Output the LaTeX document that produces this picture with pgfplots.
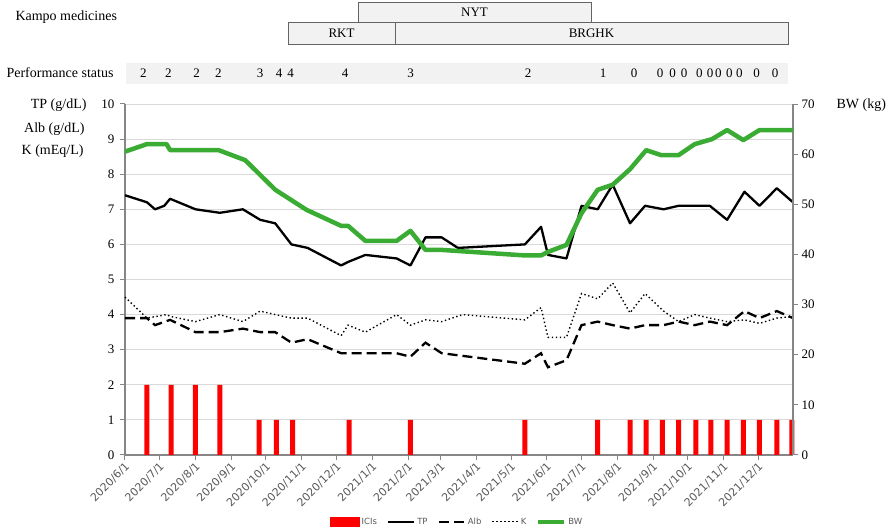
\documentclass[border=0pt]{standalone}
\usepackage{pgfplots}
\pgfplotsset{compat=1.18}
\usepackage{fontspec}
\setmainfont{Liberation Serif}
\newfontfamily\dejavu{DejaVu Sans}
\definecolor{bwgreen}{RGB}{58,172,52}
\definecolor{axgray}{RGB}{134,134,134}
\definecolor{gridgray}{RGB}{217,217,217}
\definecolor{boxfill}{RGB}{242,242,242}
\definecolor{boxdraw}{RGB}{100,100,100}
\definecolor{txtgray}{RGB}{89,89,89}
\begin{document}
\begin{tikzpicture}
\path[use as bounding box] (-125pt,-72pt) rectangle (761pt,455pt);
% ---- annotations: Kampo medicines and performance status
\node[anchor=west,font=\fontsize{14}{16}\selectfont] at (-113pt,438pt) {Kampo medicines};
\draw[boxdraw,fill=boxfill,line width=0.8pt] (233pt,453pt) rectangle (466pt,433pt);
\node[font=\fontsize{13}{15}\selectfont] at (349.5pt,443pt) {NYT};
\draw[boxdraw,fill=boxfill,line width=0.8pt] (163pt,433pt) rectangle (270pt,411pt);
\node[font=\fontsize{13}{15}\selectfont] at (216.5pt,422pt) {RKT};
\draw[boxdraw,fill=boxfill,line width=0.8pt] (270pt,433pt) rectangle (663pt,411pt);
\node[font=\fontsize{13}{15}\selectfont] at (466.5pt,422pt) {BRGHK};
\node[anchor=west,font=\fontsize{14}{16}\selectfont] at (-122pt,382pt) {Performance status};
\fill[boxfill] (1pt,392pt) rectangle (663pt,371pt);
\foreach \px/\v in {143.3/2,168.3/2,196.7/2,218.3/2,260/3,279/4,290.7/4,345/4,410.7/3,528/2,603/1,634/0,660/0,672.7/0,684/0,699.3/0,710/0,718.3/0,729.3/0,739.3/0,756.7/0,775/0}{
  \node[font=\fontsize{13}{15}\selectfont,inner sep=0pt] at ({\px pt-125pt},382pt) {\v};
}
\node[anchor=east,font=\fontsize{14}{16}\selectfont] at (-35pt,350pt) {TP (g/dL)};
\node[anchor=east,font=\fontsize{14}{16}\selectfont] at (-37pt,326pt) {Alb (g/dL)};
\node[anchor=east,font=\fontsize{14}{16}\selectfont] at (-38pt,304pt) {K (mEq/L)};
\node[anchor=west,font=\fontsize{14}{16}\selectfont] at (708pt,350pt) {BW (kg)};
% ---- left axis
\begin{axis}[
  at={(0pt,0pt)}, anchor=south west,
  scale only axis, width=668pt, height=351pt,
  xmin=0, xmax=578, ymin=0, ymax=10,
  axis x line=bottom, axis y line=left,
  axis line style={-, draw=axgray, line width=1.2pt},
  tick align=outside, major tick length=5pt,
  every tick/.style={draw=axgray, line width=1pt},
  ytick={0,1,...,10},
  ymajorgrids, grid style={gridgray, line width=0.9pt},
  /pgf/number format/assume math mode=true,
  yticklabel style={font=\fontsize{13}{15}\selectfont, xshift=-2pt},
  xtick={0,30,61,92,122,153,183,214,245,273,304,334,365,395,426,457,487,518,548},
  xticklabels={2020/6/1,2020/7/1,2020/8/1,2020/9/1,2020/10/1,2020/11/1,2020/12/1,2021/1/1,2021/2/1,2021/3/1,2021/4/1,2021/5/1,2021/6/1,2021/7/1,2021/8/1,2021/9/1,2021/10/1,2021/11/1,2021/12/1},
  xticklabel style={font=\dejavu\fontsize{11}{13}\selectfont, rotate=45, anchor=east, text=txtgray, xshift=2pt, yshift=-5pt},
  clip=false,
  legend image code/.code={\draw[#1] (0pt,0pt) -- (26pt,0pt);},
  legend style={at={(0.497,-0.19)}, anchor=center, draw=none, fill=none,
    font=\dejavu\fontsize{8.5}{10}\selectfont, text=txtgray, inner sep=0pt,
    /tikz/every even column/.append style={column sep=8pt}},
  legend columns=5,
]
\addplot[ybar, bar width=5pt, fill=red, draw=none,
  legend image code/.code={\fill[red] (0pt,-5pt) rectangle (30pt,5pt);}] coordinates {
(19,2) (40,2) (61,2) (82,2) (116,1) (131,1) (145,1) (194,1) (247,1) (346,1) (409,1)
(437,1) (451,1) (465,1) (479,1) (494,1) (507,1) (521,1) (535,1) (549,1) (564,1) (577,1)};
\addlegendentry{ICIs}
\addplot[black, line width=2.3pt, line join=round] coordinates {
(0,7.4) (19,7.2) (26,7.0) (34,7.1) (39,7.3) (61,7.0) (82,6.9) (102,7.0) (117,6.7) (130,6.6)
(144,6.0) (158,5.9) (187,5.4) (193,5.5) (208,5.7) (235,5.6) (247,5.4) (260,6.2) (274,6.2)
(288,5.9) (346,6.0) (360,6.5) (366,5.7) (382,5.6) (395,7.1) (409,7.0) (422,7.7) (437,6.6)
(450,7.1) (466,7.0) (479,7.1) (506,7.1) (521,6.7) (536,7.5) (549,7.1) (564,7.6) (578,7.2)};
\addlegendentry{TP}
\addplot[black, line width=2.3pt, dash pattern=on 10pt off 5pt] coordinates {
(0,3.9) (19,3.9) (26,3.7) (39,3.85) (61,3.5) (82,3.5) (102,3.6) (117,3.5) (130,3.5)
(144,3.2) (158,3.3) (187,2.9) (208,2.9) (235,2.9) (247,2.8) (260,3.2) (274,2.9) (346,2.6)
(360,2.9) (366,2.5) (382,2.7) (395,3.7) (409,3.8) (422,3.7) (437,3.6) (450,3.7) (466,3.7)
(479,3.8) (493,3.7) (506,3.8) (521,3.7) (536,4.1) (549,3.9) (564,4.1) (578,3.9)};
\addlegendentry{Alb}
\addplot[black, line width=1.4pt, dash pattern=on 1.4pt off 2.6pt] coordinates {
(0,4.5) (19,3.9) (36,4.0) (39,3.95) (61,3.8) (82,4.0) (102,3.8) (117,4.1) (130,4.0)
(144,3.9) (158,3.9) (187,3.4) (193,3.7) (208,3.5) (235,4.0) (247,3.7) (260,3.85) (274,3.8)
(292,4.0) (346,3.85) (360,4.2) (366,3.35) (382,3.35) (395,4.6) (409,4.45) (422,4.9)
(437,4.05) (450,4.6) (466,4.1) (479,3.8) (493,4.0) (506,3.9) (521,3.8) (536,3.85)
(549,3.75) (564,3.9) (578,3.95)};
\addlegendentry{K}
\addlegendimage{bwgreen, line width=4pt}
\addlegendentry{BW}
\end{axis}
% ---- right axis
\begin{axis}[
  at={(0pt,0pt)}, anchor=south west,
  scale only axis, width=668pt, height=351pt,
  xmin=0, xmax=578, ymin=0, ymax=70,
  axis x line=none, axis y line=right,
  axis line style={-, draw=axgray, line width=1.2pt},
  tick align=outside, major tick length=5pt,
  every tick/.style={draw=axgray, line width=1pt},
  ytick={0,10,...,70},
  /pgf/number format/assume math mode=true,
  yticklabel style={font=\fontsize{13}{15}\selectfont},
]
\addplot[bwgreen, line width=4.5pt, line join=round] coordinates {
(0,60.5) (19,62.0) (36,62.0) (39,60.8) (81,60.8) (104,58.8) (130,52.9) (157,48.9)
(187,45.7) (193,45.7) (208,42.7) (235,42.7) (247,44.7) (260,40.9) (274,40.9) (346,39.8)
(360,39.8) (366,40.5) (382,41.9) (395,48.2) (409,52.9) (422,53.9) (437,57.0) (451,60.8)
(464,59.8) (479,59.8) (493,62.0) (508,63.0) (521,64.8) (535,62.8) (549,64.8) (578,64.8)};
\end{axis}
\end{tikzpicture}
\end{document}
